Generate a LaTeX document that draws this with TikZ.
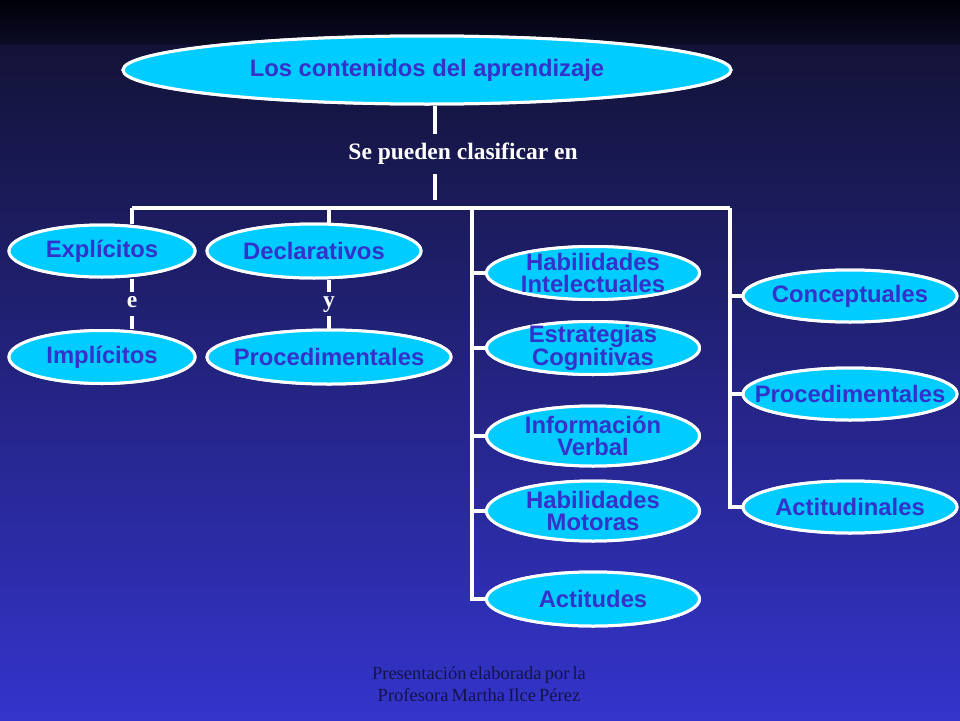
\documentclass[tikz,border=0pt]{standalone}
\usepackage{fontspec}
\setmainfont{Liberation Serif}
\newfontfamily\arialf{Liberation Sans}
\newcommand\tightsp{\spaceskip=0.17em plus 0.05em\relax}
\usetikzlibrary{shapes.geometric}
\definecolor{cyanfill}{HTML}{00CCFF}
\definecolor{txtblue}{HTML}{3333CC}
\definecolor{footc}{HTML}{13134A}
\definecolor{bandtop}{HTML}{000008}
\definecolor{bandbot}{HTML}{0C0C26}
\definecolor{bgtop}{HTML}{131338}
\definecolor{bgbot}{HTML}{3434CC}
\tikzset{
  ell/.style={ellipse, fill=cyanfill, draw=white, line width=3pt, inner sep=0pt},
  etxt/.style={text=txtblue, align=center, inner sep=0pt,
    font=\arialf\bfseries\fontsize{23.8}{22}\selectfont},
  wtxt/.style={text=white, inner sep=0pt, font=\bfseries\fontsize{23.5}{24}\selectfont},
  conn/.style={draw=white, line width=3.5pt},
}
\begin{document}
\begin{tikzpicture}[x=1pt,y=-1pt]
\useasboundingbox (0,0) rectangle (960,720);
\shade[top color=bandtop, bottom color=bandbot] (0,0) rectangle (960,45);
\shade[top color=bgtop, bottom color=bgbot] (0,45) rectangle (960,720);

% ellipses (positions)
\node[ell, minimum width=608, minimum height=68] (top) at (427,70) {};
\node[ell, minimum width=186, minimum height=52] (ex) at (102,251) {};
\node[ell, minimum width=214, minimum height=54] (de) at (314,251) {};
\node[ell, minimum width=186, minimum height=53] (im) at (102,357) {};
\node[ell, minimum width=244, minimum height=54] (pr1) at (329,357) {};
\node[ell, minimum width=213, minimum height=53] (hi) at (593,273) {};
\node[ell, minimum width=213, minimum height=53] (es) at (593,348) {};
\node[ell, minimum width=213, minimum height=60] (inf) at (593,436) {};
\node[ell, minimum width=213, minimum height=60] (hm) at (593,511) {};
\node[ell, minimum width=213, minimum height=54] (ac) at (593,599) {};
\node[ell, minimum width=214, minimum height=52] (co) at (850,296) {};
\node[ell, minimum width=214, minimum height=52] (pr2) at (850,394) {};
\node[ell, minimum width=214, minimum height=52] (at) at (850,507) {};

% labels
\node[wtxt, minimum height=40, text height=16, text depth=5] (lbl) at (463,154) {Se pueden clasificar en};
\node[wtxt, minimum height=24, text height=11, text depth=5] (e) at (132,304) {e};
\node[wtxt, minimum height=24, text height=11, text depth=5] (y) at (329,304) {y};

% junction coordinates
\coordinate (stem) at (435,0);
\coordinate (stemend) at (435,200);
\coordinate (bL) at (132,208);
\coordinate (bD) at (329,208);
\coordinate (b1) at (472,208);
\coordinate (b2) at (730,208);

% connectors
\path[conn] (stem |- top.south) -- (stem |- lbl.north);
\path[conn] (stem |- lbl.south) -- (stemend);
\path[conn] (bL) -- (b2);
\path[conn] (bL) -- (bL |- ex.north);
\path[conn] (bD) -- (bD |- de.north);
\path[conn] (e |- ex.south) -- (e.north);
\path[conn] (e.south) -- (e |- im.north);
\path[conn] (y |- de.south) -- (y.north);
\path[conn] (y.south) -- (y |- pr1.north);
\path[conn, line join=miter] (b1) -- (b1 |- ac.west) -- (ac.west);
\path[conn] (b1 |- hi.west) -- (hi.west);
\path[conn] (b1 |- es.west) -- (es.west);
\path[conn] (b1 |- inf.west) -- (inf.west);
\path[conn] (b1 |- hm.west) -- (hm.west);
\path[conn, line join=miter] (b2) -- (b2 |- at.west) -- (at.west);
\path[conn] (b2 |- co.west) -- (co.west);
\path[conn] (b2 |- pr2.west) -- (pr2.west);

% redraw ellipses over connector ends
\foreach \n/\w/\h in {top/608/68, ex/186/52, de/214/54, im/186/53, pr1/244/54,
  hi/213/53, es/213/53, inf/213/60, hm/213/60, ac/213/54, co/214/52, pr2/214/52, at/214/52}
  \node[ell, minimum width=\w, minimum height=\h] (\n-e) at (\n) {};

% ellipse texts
\node[etxt] (top-t) at (top) {Los contenidos del aprendizaje};
\node[etxt] (ex-t) at (ex) {Explícitos};
\node[etxt] (de-t) at (de) {Declarativos};
\node[etxt] (im-t) at (im) {Implícitos};
\node[etxt] (pr1-t) at (pr1) {Procedimentales};
\node[etxt] (hi-t) at (hi) {Habilidades\\Intelectuales};
\node[etxt] (es-t) at (es) {Estrategias\\Cognitivas};
\node[etxt] (inf-t) at (inf) {Información\\Verbal};
\node[etxt] (hm-t) at (hm) {Habilidades\\Motoras};
\node[etxt] (ac-t) at (ac) {Actitudes};
\node[etxt] (co-t) at (co) {Conceptuales};
\node[etxt] (pr2-t) at (pr2) {Procedimentales};
\node[etxt] (at-t) at (at) {Actitudinales};

% footer
\node[text=footc, align=center, inner sep=0pt,
  font=\fontsize{18.5}{22}\selectfont] (foot) at (479,684)
  {\tightsp Presentación elaborada por la\\\tightsp Profesora Martha Ilce Pérez};
\end{tikzpicture}
\end{document}
